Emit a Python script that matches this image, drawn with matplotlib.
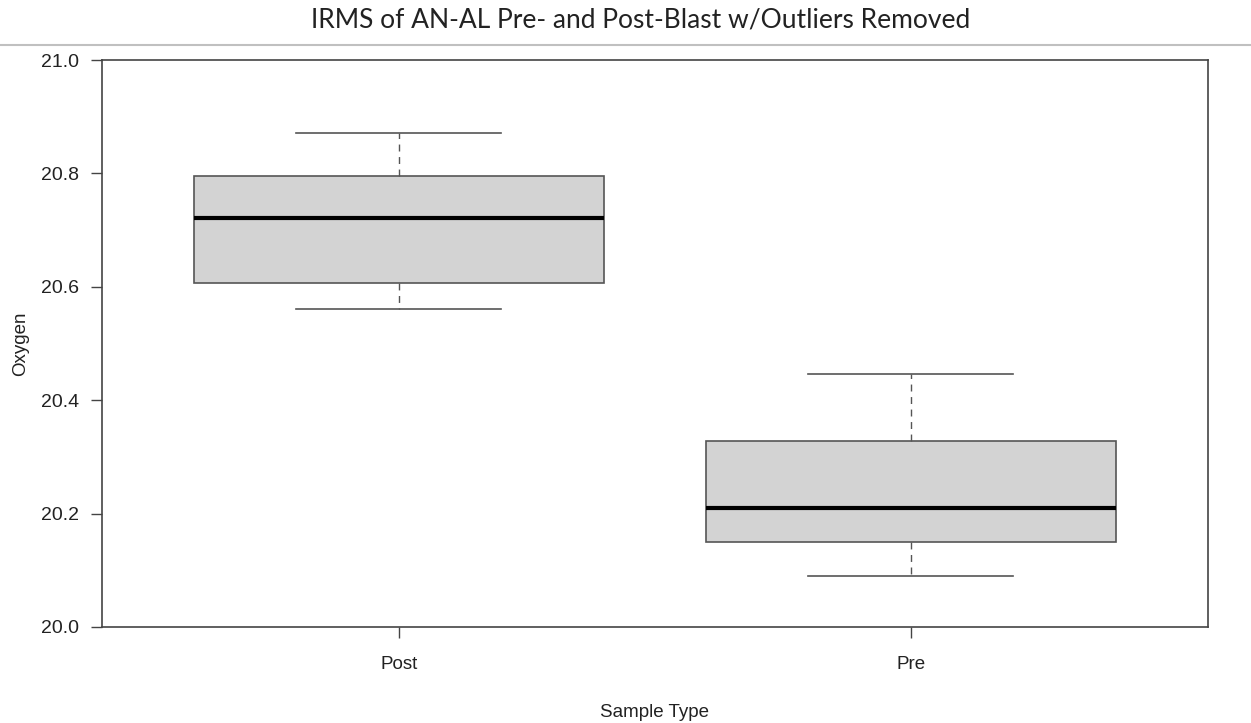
import matplotlib
matplotlib.use("Agg")
import matplotlib.pyplot as plt
from matplotlib.lines import Line2D

# Five-number summaries per sample type (outliers removed)
categories = ["Post", "Pre"]
whisker_low = [20.560, 20.090]
q1 = [20.606, 20.150]
median = [20.721, 20.210]
q3 = [20.795, 20.328]
whisker_high = [20.871, 20.446]

y_ticks = [20.0, 20.2, 20.4, 20.6, 20.8, 21.0]

stats = []
for name, lo, a, m, b, hi in zip(categories, whisker_low, q1, median, q3, whisker_high):
    stats.append({"label": name, "whislo": lo, "q1": a, "med": m, "q3": b,
                  "whishi": hi, "fliers": []})

fig = plt.figure(figsize=(12.51, 7.23), dpi=100)
ax = fig.add_axes([0.0813, 0.1328, 0.8843, 0.7842])

edge = "#555555"
ax.bxp(stats, positions=[1, 2], widths=0.8, patch_artist=True, showfliers=False,
       boxprops=dict(facecolor="#d3d3d3", edgecolor=edge, linewidth=1.2),
       medianprops=dict(color="black", linewidth=3.0, solid_capstyle="butt"),
       whiskerprops=dict(color=edge, linewidth=1.0, linestyle=(0, (5, 4))),
       capprops=dict(color=edge, linewidth=1.2), capwidths=0.4)

ax.set_xlim(0.42, 2.58)
ax.set_ylim(20.0, 21.0)
ax.set_yticks(y_ticks)
ax.set_yticklabels([f"{v:.1f}" for v in y_ticks])
ax.set_xticks([1, 2])
ax.set_xticklabels(categories)

for s in ax.spines.values():
    s.set_color("#444444")
    s.set_linewidth(1.2)

ax.tick_params(axis="both", length=8, width=1.0, color="#444444",
               labelcolor="#222222")
ax.tick_params(axis="y", pad=8, labelsize=14)
ax.tick_params(axis="x", pad=13, labelsize=13.5)
for lab in ax.get_xticklabels() + ax.get_yticklabels():
    lab.set_family("Liberation Sans")

ax.set_xlabel("Sample Type", family="Liberation Sans", fontsize=13.5,
              color="#222222", labelpad=22)
ax.set_ylabel("Oxygen", family="Liberation Sans", fontsize=13.5,
              color="#222222", labelpad=9)

fig.text(0.512, 0.972, "IRMS of AN-AL Pre- and Post-Blast w/Outliers Removed",
         ha="center", va="center", fontsize=19, family="Lato", color="#222222")
fig.add_artist(Line2D([0, 1], [1 - 45 / 723, 1 - 45 / 723], transform=fig.transFigure,
                      color="#c0c0c0", linewidth=1.5))

fig.savefig("out.png", dpi=100)
